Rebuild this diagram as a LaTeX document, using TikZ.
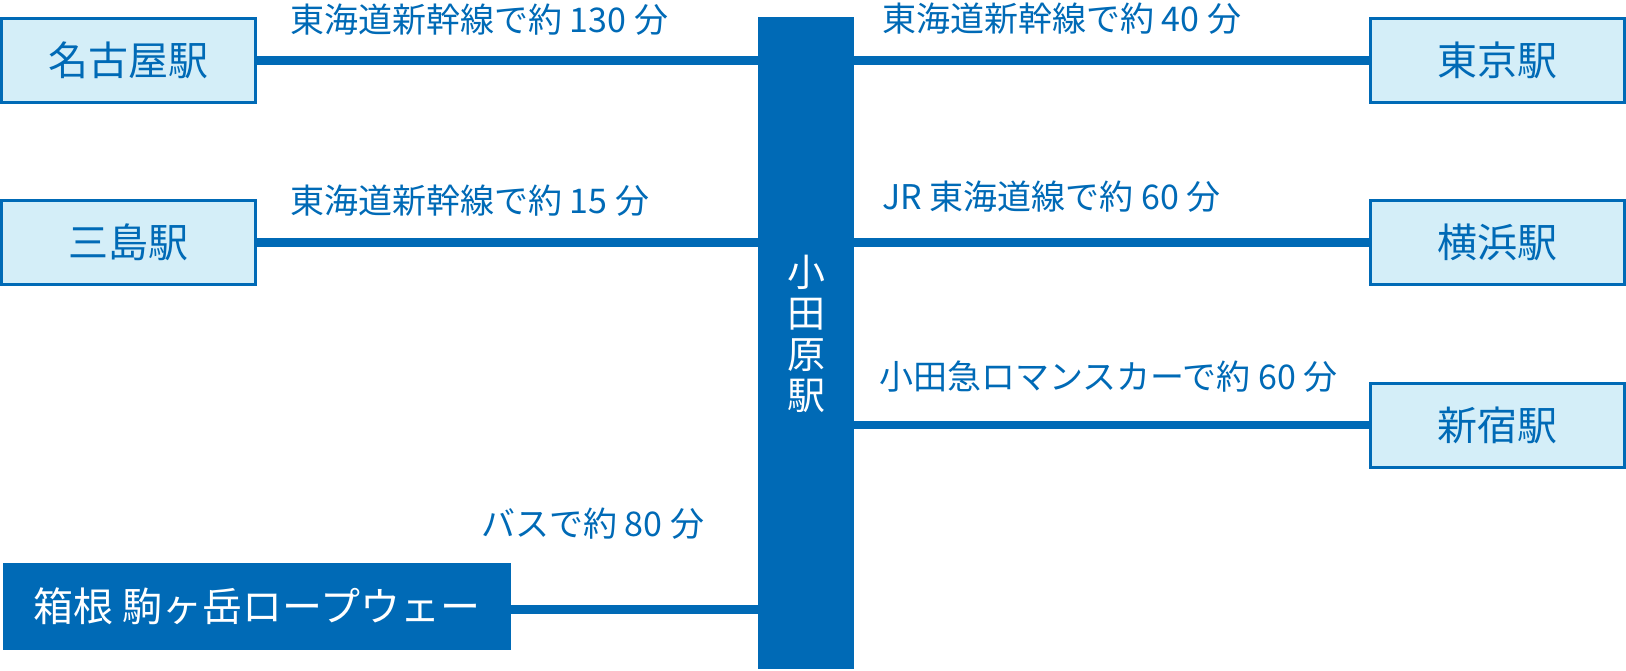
\documentclass[tikz,border=0pt]{standalone}
\usepackage{fontspec}
\setmainfont{Noto Sans CJK JP}
\definecolor{jrblue}{HTML}{006AB6}
\definecolor{lightcyan}{HTML}{D4EEF8}
\begin{document}
\begin{tikzpicture}[x=0.5pt,y=-0.5pt,
  station/.style={draw=jrblue, line width=1.5pt, fill=lightcyan, minimum width=127pt, minimum height=42pt, inner sep=0pt, text=jrblue, font=\fontsize{20pt}{24pt}\selectfont},
  route/.style={draw=jrblue, line width=4.3pt},
  routelabel/.style={anchor=west, inner sep=0pt, text=jrblue, font=\fontsize{17pt}{20pt}\selectfont}]
\useasboundingbox (0,0) rectangle (1626,670);
% central bar
\node[fill=jrblue, minimum width=48pt, minimum height=326pt, inner sep=0pt] (bar) at (806,343) {};
\node[text=white, font=\fontsize{19pt}{20.5pt}\selectfont, align=center, inner sep=0pt] (odtext) at (806,334) {小\\田\\原\\駅};
% stations
\node[station] (nagoya) at (128.5,60.5) {名古屋駅};
\node[station] (mishima) at (128.5,242.5) {三島駅};
\node[station] (tokyo) at (1497,60.5) {東京駅};
\node[station] (yokohama) at (1497,242.5) {横浜駅};
\node[station] (shinjuku) at (1497,425) {新宿駅};
\node[fill=jrblue, minimum width=254pt, minimum height=43.5pt, inner sep=0pt, text=white, font=\fontsize{20pt}{24pt}\selectfont] (hakone) at (257,606.5) {箱根 駒ヶ岳ロープウェー};
% routes
\draw[route] (nagoya.east) -- (nagoya.east -| bar.west);
\draw[route] (mishima.east) -- (mishima.east -| bar.west);
\draw[route] (tokyo.west -| bar.east) -- (tokyo.west);
\draw[route] (yokohama.west -| bar.east) -- (yokohama.west);
\draw[route] (shinjuku.west -| bar.east) -- (shinjuku.west);
\draw[route] ([yshift=-1.5pt]hakone.east) -- ([yshift=-1.5pt]hakone.east -| bar.west);
% labels
\node[routelabel] (l1) at (290,20) {東海道新幹線で約 130 分};
\node[routelabel] (l2) at (290,201) {東海道新幹線で約 15 分};
\node[routelabel] (l3) at (882,18.5) {東海道新幹線で約 40 分};
\node[routelabel] (l4) at (882,197) {JR 東海道線で約 60 分};
\node[routelabel] (l5) at (879,377) {小田急ロマンスカーで約 60 分};
\node[routelabel] (l6) at (481,524) {バスで約 80 分};
\end{tikzpicture}
\end{document}
